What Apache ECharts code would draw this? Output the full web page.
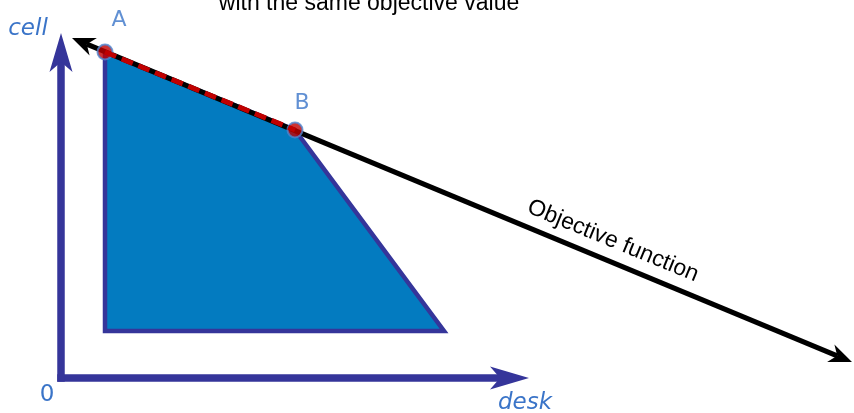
<!DOCTYPE html>
<html>
<head>
<meta charset="utf-8">
<title>Objective function</title>
<script src="https://cdn.jsdelivr.net/npm/echarts/dist/echarts.min.js"></script>
<style>
  html, body { margin: 0; padding: 0; background: #ffffff; }
  #chart { width: 854px; height: 413px; }
</style>
</head>
<body>
<div id="chart"></div>
<script>
// Problem space: desk on x, cell on y
const origin = [0, 0];
const deskAxisEnd = [46.8, 0];
const cellAxisEnd = [0, 34.5];

// Feasible region corners (A, B, C, D)
const regionVertices = [[4.4, 32.6], [23.4, 24.8], [38.3, 4.7], [4.4, 4.7]];

// Optimal corner points sharing the same objective value
const pointNames = ['A', 'B'];
const optimalPoints = [[4.4, 32.6], [23.4, 24.8]];

// Objective function line (arrow at both ends)
const objectiveStart = [1.1, 34.0];
const objectiveEnd = [79.1, 1.6];

// Texts
const titleText = 'with the same objective value';
const objectiveText = 'Objective function';
const xAxisName = 'desk';
const yAxisName = 'cell';
const originLabel = '0';

const AXIS_COLOR = '#35359A';
const LABEL_BLUE = '#3A74C8';

function arrowRenderer(head, bothEnds, width, color, cap) {
  return function (params, api) {
    const p = api.coord([api.value(0), api.value(1)]);
    const q = api.coord([api.value(2), api.value(3)]);
    const dx = q[0] - p[0], dy = q[1] - p[1];
    const L = Math.hypot(dx, dy);
    const ux = dx / L, uy = dy / L, nx = -uy, ny = ux;
    const headPoly = function (t, sx, sy) {
      return [
        [t[0], t[1]],
        [t[0] - sx * head.len + nx * head.hw, t[1] - sy * head.len + ny * head.hw],
        [t[0] - sx * head.back, t[1] - sy * head.back],
        [t[0] - sx * head.len - nx * head.hw, t[1] - sy * head.len - ny * head.hw]
      ];
    };
    const s = bothEnds ? [p[0] + ux * head.back, p[1] + uy * head.back] : p;
    const e = [q[0] - ux * head.back, q[1] - uy * head.back];
    const children = [{
      type: 'line',
      shape: { x1: s[0], y1: s[1], x2: e[0], y2: e[1] },
      style: { stroke: color, lineWidth: width, lineCap: cap }
    }, {
      type: 'polygon',
      shape: { points: headPoly(q, ux, uy) },
      style: { fill: color }
    }];
    if (bothEnds) {
      children.push({
        type: 'polygon',
        shape: { points: headPoly(p, -ux, -uy) },
        style: { fill: color }
      });
    }
    return { type: 'group', children: children };
  };
}

const chart = echarts.init(document.getElementById('chart'), null, { renderer: 'canvas' });

chart.setOption({
  animation: false,
  backgroundColor: '#ffffff',
  grid: { left: 61, right: 0, top: 0, bottom: 35, containLabel: false },
  xAxis: { type: 'value', min: 0, max: 79.3, show: false },
  yAxis: { type: 'value', min: 0, max: 37.8, show: false },
  series: [
    {
      name: 'Feasible region',
      type: 'custom',
      coordinateSystem: 'cartesian2d',
      data: regionVertices,
      clip: false,
      renderItem: function (params, api) {
        if (params.dataIndex !== 0) return;
        return {
          type: 'polygon',
          shape: { points: regionVertices.map(function (v) { return api.coord(v); }) },
          style: { fill: '#037BC0', stroke: AXIS_COLOR, lineWidth: 4.5, lineJoin: 'miter' }
        };
      }
    },
    {
      name: 'Axes',
      type: 'custom',
      coordinateSystem: 'cartesian2d',
      clip: false,
      encode: { x: [0, 2], y: [1, 3] },
      data: [origin.concat(deskAxisEnd), origin.concat(cellAxisEnd)],
      renderItem: arrowRenderer({ len: 39, hw: 11.5, back: 29 }, false, 7.5, AXIS_COLOR, 'square')
    },
    {
      name: 'Objective function',
      type: 'custom',
      coordinateSystem: 'cartesian2d',
      clip: false,
      encode: { x: [0, 2], y: [1, 3] },
      data: [objectiveStart.concat(objectiveEnd)],
      renderItem: arrowRenderer({ len: 23, hw: 9.5, back: 16 }, true, 5, '#000000', 'butt')
    },
    {
      name: 'Same objective value',
      type: 'line',
      data: optimalPoints,
      symbol: 'none',
      lineStyle: { color: '#C00000', width: 5, type: [12, 6] },
      silent: true
    },
    {
      name: 'Corner points',
      type: 'scatter',
      data: optimalPoints.map(function (v, i) {
        return {
          value: v,
          name: pointNames[i],
          label: { offset: i === 0 ? [14, -32] : [7, -27] }
        };
      }),
      symbolSize: 15,
      itemStyle: { color: '#C00000', borderColor: '#4F86D0', borderWidth: 2 },
      label: {
        show: true,
        position: 'inside',
        formatter: '{b}',
        color: LABEL_BLUE,
        textBorderWidth: 0,
        textBorderColor: 'transparent',
        fontFamily: 'DejaVu Sans',
        fontSize: 22
      }
    }
  ],
  graphic: [
    {
      type: 'text', x: 369, y: 4,
      style: { text: titleText, fill: '#000000', font: '23px "Liberation Sans", Arial, sans-serif', align: 'center', verticalAlign: 'middle' }
    },
    {
      type: 'text', x: 613, y: 241, rotation: -0.39,
      style: { text: objectiveText, fill: '#000000', font: '23px "Liberation Sans", Arial, sans-serif', align: 'center', verticalAlign: 'middle' }
    },
    {
      type: 'text', x: 28, y: 29,
      style: { text: yAxisName, fill: LABEL_BLUE, font: 'italic 23px "DejaVu Sans", sans-serif', align: 'center', verticalAlign: 'middle' }
    },
    {
      type: 'text', x: 525, y: 403,
      style: { text: xAxisName, fill: LABEL_BLUE, font: 'italic 23px "DejaVu Sans", sans-serif', align: 'center', verticalAlign: 'middle' }
    },
    {
      type: 'text', x: 47, y: 395,
      style: { text: originLabel, fill: LABEL_BLUE, font: '23px "DejaVu Sans", sans-serif', align: 'center', verticalAlign: 'middle' }
    }
  ]
});
</script>
</body>
</html>
